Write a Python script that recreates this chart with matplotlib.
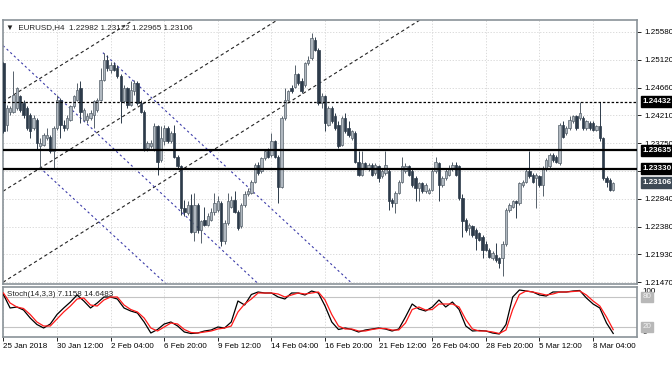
import numpy as np
import matplotlib
matplotlib.use("Agg")
import matplotlib.pyplot as plt
import matplotlib.transforms as mtrans

plt.rcParams['font.family'] = ['Liberation Sans', 'DejaVu Sans']

# ---- candle data (EURUSD H4), one entry per bar ----
opens = [
    1.2507, 1.2405, 1.2427, 1.2427, 1.2433, 1.2452, 1.2441, 1.2433, 1.2422, 1.2400,
    1.2414, 1.2370, 1.2373, 1.2384, 1.2386, 1.2362, 1.2400, 1.2446, 1.2405, 1.2400,
    1.2414, 1.2436, 1.2446, 1.2466, 1.2414, 1.2414, 1.2416, 1.2422, 1.2430, 1.2446,
    1.2479, 1.2512, 1.2496, 1.2504, 1.2498, 1.2485, 1.2444, 1.2466, 1.2438, 1.2460,
    1.2474, 1.2441, 1.2427, 1.2367, 1.2370, 1.2364, 1.2403, 1.2348, 1.2378, 1.2400,
    1.2378, 1.2392, 1.2353, 1.2337, 1.2269, 1.2260, 1.2274, 1.2230, 1.2274, 1.2233,
    1.2249, 1.2241, 1.2249, 1.2263, 1.2266, 1.2277, 1.2214, 1.2244, 1.2271, 1.2282,
    1.2263, 1.2239, 1.2274, 1.2291, 1.2293, 1.2312, 1.2340, 1.2329, 1.2351, 1.2362,
    1.2356, 1.2378, 1.2353, 1.2304, 1.2416, 1.2446, 1.2466, 1.2468, 1.2488, 1.2477,
    1.2471, 1.2507, 1.2515, 1.2545, 1.2528, 1.2441, 1.2452, 1.2405, 1.2433, 1.2419,
    1.2405, 1.2373, 1.2416, 1.2400, 1.2384, 1.2392, 1.2345, 1.2323, 1.2343, 1.2332,
    1.2340, 1.2326, 1.2337, 1.2321, 1.2326, 1.2329, 1.2282, 1.2277, 1.2293, 1.2312,
    1.2329, 1.2337, 1.2329, 1.2318, 1.2302, 1.2310, 1.2296, 1.2293, 1.2299, 1.2329,
    1.2343, 1.2307, 1.2318, 1.2323, 1.2332, 1.2340, 1.2337, 1.2285, 1.2249, 1.2236,
    1.2239, 1.2233, 1.2228, 1.2222, 1.2209, 1.2200, 1.2187, 1.2192, 1.2187, 1.2187,
    1.2209, 1.2266, 1.2271, 1.2280, 1.2277, 1.2307, 1.2312, 1.2329, 1.2323, 1.2318,
    1.2321, 1.2307, 1.2332, 1.2337, 1.2356, 1.2353, 1.2343, 1.2405, 1.2392, 1.2400,
    1.2411, 1.2419, 1.2416, 1.2416, 1.2400, 1.2408, 1.2408, 1.2397, 1.2403, 1.2384,
    1.2318, 1.2315, 1.22982]
highs = [
    1.2509, 1.2438, 1.2436, 1.2493, 1.2468, 1.2455, 1.2446, 1.2436, 1.2425, 1.2422,
    1.2416, 1.2384, 1.2392, 1.2400, 1.2389, 1.2403, 1.2455, 1.2449, 1.2414, 1.2422,
    1.2438, 1.2455, 1.2474, 1.2477, 1.2433, 1.2425, 1.2430, 1.2446, 1.2449, 1.2498,
    1.2523, 1.2520, 1.2509, 1.2509, 1.2504, 1.2488, 1.2471, 1.2468, 1.2477, 1.2479,
    1.2477, 1.2446, 1.2430, 1.2378, 1.2381, 1.2408, 1.2405, 1.2403, 1.2405, 1.2403,
    1.2395, 1.2405, 1.2356, 1.2340, 1.2282, 1.2280, 1.2291, 1.2293, 1.2277, 1.2249,
    1.2271, 1.2260, 1.2269, 1.2293, 1.2288, 1.2280, 1.2249, 1.2293, 1.2288, 1.2296,
    1.2266, 1.2277, 1.2296, 1.2302, 1.2315, 1.2343, 1.2345, 1.2353, 1.2364, 1.2367,
    1.2392, 1.2381, 1.2356, 1.2419, 1.2466, 1.2463, 1.2471, 1.2504, 1.2490, 1.2482,
    1.2509, 1.2518, 1.2556, 1.2550, 1.2531, 1.2457, 1.2455, 1.2436, 1.2436, 1.2425,
    1.2411, 1.2419, 1.2425, 1.2411, 1.2397, 1.2395, 1.2362, 1.2362, 1.2345, 1.2343,
    1.2343, 1.2343, 1.2340, 1.2332, 1.2362, 1.2332, 1.2285, 1.2296, 1.2315, 1.2353,
    1.2343, 1.2340, 1.2332, 1.2321, 1.2312, 1.2312, 1.2310, 1.2302, 1.2332, 1.2353,
    1.2345, 1.2321, 1.2332, 1.2340, 1.2345, 1.2345, 1.2340, 1.2291, 1.2252, 1.2244,
    1.2241, 1.2236, 1.2230, 1.2225, 1.2214, 1.2203, 1.2198, 1.2211, 1.2189, 1.2214,
    1.2269, 1.2277, 1.2282, 1.2282, 1.2312, 1.2315, 1.2332, 1.2362, 1.2326, 1.2326,
    1.2323, 1.2337, 1.2351, 1.2359, 1.2359, 1.2356, 1.2408, 1.2411, 1.2403, 1.2419,
    1.2422, 1.2422, 1.2443, 1.2419, 1.2414, 1.2411, 1.2411, 1.2405, 1.2443, 1.2386,
    1.2321, 1.2318, 1.23122]
lows = [
    1.2392, 1.2395, 1.2422, 1.2425, 1.2430, 1.2427, 1.2416, 1.2397, 1.2384, 1.2397,
    1.2364, 1.2334, 1.2370, 1.2381, 1.2359, 1.2334, 1.2397, 1.2384, 1.2395, 1.2397,
    1.2411, 1.2433, 1.2444, 1.2408, 1.2411, 1.2408, 1.2414, 1.2400, 1.2427, 1.2444,
    1.2477, 1.2493, 1.2490, 1.2493, 1.2482, 1.2408, 1.2441, 1.2433, 1.2436, 1.2455,
    1.2438, 1.2425, 1.2362, 1.2362, 1.2367, 1.2362, 1.2323, 1.2345, 1.2373, 1.2375,
    1.2375, 1.2351, 1.2334, 1.2258, 1.2255, 1.2258, 1.2228, 1.2214, 1.2228, 1.2211,
    1.2239, 1.2239, 1.2247, 1.2258, 1.2263, 1.2206, 1.2209, 1.2241, 1.2269, 1.2260,
    1.2233, 1.2236, 1.2271, 1.2288, 1.2291, 1.2310, 1.2323, 1.2326, 1.2348, 1.2351,
    1.2353, 1.2351, 1.2277, 1.2302, 1.2414, 1.2444, 1.2457, 1.2466, 1.2471, 1.2457,
    1.2468, 1.2504, 1.2512, 1.2526, 1.2438, 1.2433, 1.2395, 1.2403, 1.2408, 1.2397,
    1.2367, 1.2370, 1.2392, 1.2386, 1.2381, 1.2343, 1.2321, 1.2321, 1.2332, 1.2329,
    1.2321, 1.2323, 1.2312, 1.2318, 1.2323, 1.2266, 1.2271, 1.2260, 1.2291, 1.2310,
    1.2326, 1.2321, 1.2304, 1.2280, 1.2280, 1.2293, 1.2293, 1.2291, 1.2296, 1.2326,
    1.2280, 1.2304, 1.2315, 1.2321, 1.2329, 1.2321, 1.2282, 1.2222, 1.2230, 1.2225,
    1.2222, 1.2200, 1.2214, 1.2187, 1.2198, 1.2187, 1.2184, 1.2181, 1.2170, 1.2157,
    1.2206, 1.2263, 1.2269, 1.2252, 1.2274, 1.2304, 1.2310, 1.2318, 1.2310, 1.2269,
    1.2304, 1.2288, 1.2329, 1.2334, 1.2345, 1.2343, 1.2340, 1.2384, 1.2389, 1.2397,
    1.2408, 1.2397, 1.2414, 1.2397, 1.2397, 1.2397, 1.2395, 1.2395, 1.2378, 1.2315,
    1.2304, 1.2296, 1.22965]
closes = [
    1.2395, 1.2433, 1.2433, 1.2455, 1.2466, 1.2430, 1.2422, 1.2400, 1.2395, 1.2416,
    1.2375, 1.2375, 1.2389, 1.2389, 1.2362, 1.2400, 1.2446, 1.2405, 1.2400, 1.2416,
    1.2436, 1.2452, 1.2463, 1.2427, 1.2430, 1.2419, 1.2425, 1.2444, 1.2446, 1.2479,
    1.2512, 1.2498, 1.2504, 1.2496, 1.2485, 1.2444, 1.2466, 1.2438, 1.2463, 1.2474,
    1.2441, 1.2427, 1.2364, 1.2375, 1.2375, 1.2403, 1.2345, 1.2384, 1.2400, 1.2378,
    1.2392, 1.2353, 1.2337, 1.2269, 1.2263, 1.2274, 1.2230, 1.2274, 1.2233, 1.2247,
    1.2241, 1.2255, 1.2263, 1.2277, 1.2280, 1.2214, 1.2244, 1.2280, 1.2282, 1.2263,
    1.2236, 1.2274, 1.2291, 1.2296, 1.2312, 1.2340, 1.2326, 1.2351, 1.2362, 1.2353,
    1.2378, 1.2353, 1.2304, 1.2416, 1.2446, 1.2460, 1.2460, 1.2488, 1.2474, 1.2460,
    1.2507, 1.2512, 1.2548, 1.2528, 1.2441, 1.2452, 1.2408, 1.2433, 1.2411, 1.2400,
    1.2370, 1.2416, 1.2395, 1.2389, 1.2395, 1.2345, 1.2323, 1.2343, 1.2334, 1.2340,
    1.2323, 1.2340, 1.2318, 1.2329, 1.2340, 1.2280, 1.2277, 1.2293, 1.2312, 1.2337,
    1.2337, 1.2323, 1.2307, 1.2302, 1.2310, 1.2296, 1.2307, 1.2299, 1.2329, 1.2345,
    1.2307, 1.2318, 1.2329, 1.2334, 1.2340, 1.2323, 1.2285, 1.2247, 1.2233, 1.2241,
    1.2225, 1.2219, 1.2217, 1.2200, 1.2200, 1.2189, 1.2195, 1.2184, 1.2178, 1.2209,
    1.2266, 1.2274, 1.2280, 1.2277, 1.2310, 1.2312, 1.2329, 1.2321, 1.2312, 1.2323,
    1.2307, 1.2334, 1.2348, 1.2356, 1.2348, 1.2345, 1.2405, 1.2386, 1.2400, 1.2414,
    1.2419, 1.2400, 1.2425, 1.2400, 1.2411, 1.2400, 1.2397, 1.2403, 1.2384, 1.2318,
    1.2312, 1.2299, 1.23106]

# stochastic (14,3,3), read every second bar
stoch_bars = list(range(0, 183, 2))
stoch_k = [85, 58, 60, 54, 38, 25, 18, 26, 45, 58, 70, 84, 72, 58, 68, 80, 80, 76, 58, 52,
           48, 30, 8, 15, 26, 30, 22, 10, 7, 8, 12, 14, 20, 18, 30, 72, 64, 85, 90, 88,
           88, 80, 76, 88, 88, 84, 92, 88, 62, 30, 15, 18, 15, 10, 14, 16, 18, 16, 12, 16,
           40, 66, 56, 52, 60, 74, 60, 70, 55, 22, 12, 13, 12, 8, 6, 25, 80, 94, 92, 90,
           84, 82, 90, 90, 90, 92, 93, 78, 66, 58, 28, 7.1158]
stoch_d = [88, 68, 60, 57, 45, 30, 22, 22, 36, 50, 62, 76, 78, 64, 62, 74, 80, 80, 64, 55,
           50, 38, 18, 12, 20, 28, 26, 15, 9, 8, 10, 12, 16, 18, 22, 50, 66, 76, 88, 88,
           88, 86, 80, 84, 88, 86, 88, 90, 74, 45, 22, 16, 16, 12, 12, 15, 17, 17, 14, 14,
           28, 55, 60, 54, 55, 66, 66, 66, 60, 35, 16, 12, 12, 10, 7, 14, 55, 85, 92, 90,
           87, 84, 86, 90, 90, 91, 92, 84, 72, 62, 40, 14.6483]

# axis labels
date_labels = ["25 Jan 2018", "30 Jan 12:00", "2 Feb 04:00", "6 Feb 20:00", "9 Feb 12:00",
               "14 Feb 04:00", "16 Feb 20:00", "21 Feb 12:00", "26 Feb 04:00",
               "28 Feb 20:00", "5 Mar 12:00", "8 Mar 04:00"]
date_bars = [0, 16, 32, 48, 64, 80, 96, 112, 128, 144, 160, 176]
price_ticks = [1.25580, 1.25120, 1.24660, 1.24210, 1.23750, 1.23290, 1.22840, 1.22380,
               1.21930, 1.21470]

# drawn objects: horizontal levels and trend lines (bar, price anchors)
level_dotted = 1.24432
levels_solid = [1.23635, 1.23330]
last_price = 1.23106
channel_lines = [((0, 1.24440), (38, 1.25743)),
                 ((0, 1.22967), (80, 1.25711)),
                 ((0, 1.21475), (123.5, 1.25744))]
fall_lines = [((-0.4, 1.25367), (75.7, 1.21464), False),
              ((29.7, 1.25236), (103.8, 1.21464), True),
              ((10.9, 1.23350), (48.8, 1.21431), True)]

W, H = 672, 372
fig = plt.figure(figsize=(W / 100, H / 100), dpi=100)
fig.patch.set_facecolor('white')
ax = fig.add_axes([3 / W, 1 - 284 / H, 634 / W, 264 / H])
ax2 = fig.add_axes([3 / W, 1 - 337 / H, 634 / W, 50 / H])

frame_col = '#8a9298'
grid_col = '#d4d4d4'
bull_body, bull_edge = '#b0b8c0', '#56616b'
bear_body = '#2d3b4a'
fs = 5.8

n = len(closes)
x = np.arange(n)
o, h, l, c = map(np.array, (opens, highs, lows, closes))
up = c >= o

ax.vlines(x[up], l[up], h[up], color=bull_edge, lw=0.7, zorder=3)
ax.vlines(x[~up], l[~up], h[~up], color=bear_body, lw=0.7, zorder=3)
ax.bar(x[up], (c - o)[up], bottom=o[up], width=0.7, color=bull_body,
       edgecolor=bull_edge, linewidth=0.5, zorder=4)
ax.bar(x[~up], (o - c)[~up], bottom=c[~up], width=0.7, color=bear_body,
       edgecolor=bear_body, linewidth=0.5, zorder=4)

xmin, xmax = -0.12, 189.1
ax.set_xlim(xmin, xmax)
ax.set_ylim(1.21442, 1.25772)

# levels
ax.axhline(level_dotted, color='black', lw=0.9, ls=(0, (2, 1.5)), zorder=5)
for lv in levels_solid:
    ax.axhline(lv, color='black', lw=1.6, zorder=5)

# trend channels
for p1, p2 in channel_lines:
    ax.axline(p1, p2, color='#222222', lw=0.8, ls=(0, (3, 2.5)), zorder=2)
for p1, p2, ray in fall_lines:
    if ray:
        slope = (p2[1] - p1[1]) / (p2[0] - p1[0])
        ax.plot([p1[0], p1[0] + 150], [p1[1], p1[1] + slope * 150],
                color='#3a3aa8', lw=0.8, ls=(0, (2, 2.5)), zorder=2)
    else:
        ax.axline(p1, p2, color='#3a3aa8', lw=0.8, ls=(0, (2, 2.5)), zorder=2)

# grid / ticks main
ax.set_yticks(price_ticks)
ax.set_yticklabels([f"{p:.5f}" if p != 1.23290 else "" for p in price_ticks])
ax.yaxis.tick_right()
ax.tick_params(axis='y', labelsize=fs, length=3, width=0.6, pad=2, colors='black')
ax.set_xticks(date_bars)
ax.tick_params(axis='x', length=0, labelbottom=False)
ax.grid(True, color=grid_col, ls=(0, (1.5, 2)), lw=0.6)
ax.set_axisbelow(True)
for s in ax.spines.values():
    s.set_color(frame_col)
    s.set_linewidth(1.2)

# right-side value boxes
tr = mtrans.blended_transform_factory(ax.transAxes, ax.transData)
for val, bg in [(level_dotted, 'black'), (levels_solid[0], 'black'),
                (levels_solid[1], 'black'), (last_price, '#3e4a55')]:
    ax.text(1.009, val, f"{val:.5f}", transform=tr, ha='left', va='center',
            fontsize=fs, color='white', fontweight='bold', zorder=10, clip_on=False,
            bbox=dict(boxstyle='square,pad=0.25', fc=bg, ec=bg))

ax.text(0.004, 0.972, "\u25bc  EURUSD,H4  1.22982 1.23122 1.22965 1.23106",
        transform=ax.transAxes, fontsize=fs, color='#222222', va='center', ha='left')

# ---- stochastic panel ----
ax2.plot(stoch_bars, stoch_k, color='black', lw=0.9, zorder=3)
ax2.plot(stoch_bars, stoch_d, color='#ff1a1a', lw=0.9, zorder=3)
ax2.axhline(80, color='#c4c4c4', lw=0.8, zorder=1)
ax2.axhline(20, color='#c4c4c4', lw=0.8, zorder=1)
ax2.set_xlim(xmin, xmax)
ax2.set_ylim(0, 100)
ax2.set_yticks([])
ax2.set_xticks(date_bars)
ax2.set_xticklabels(date_labels, ha='left')
ax2.tick_params(axis='x', labelsize=fs, length=3, width=0.6, pad=1.5, colors='black')
ax2.grid(True, axis='x', color=grid_col, ls=(0, (1.5, 2)), lw=0.6)
for s in ax2.spines.values():
    s.set_color(frame_col)
    s.set_linewidth(1.2)
ax2.text(0.006, 0.84, "Stoch(14,3,3) 7.1158 14.6483", transform=ax2.transAxes,
         fontsize=fs, color='#222222', va='center', ha='left')
tr2 = mtrans.blended_transform_factory(ax2.transAxes, ax2.transData)
ax2.text(1.009, 91, "100", transform=tr2, fontsize=fs, va='center', ha='left')
ax2.text(1.009, 9, "0", transform=tr2, fontsize=fs, va='center', ha='left')
for v in (80, 20):
    ax2.text(1.009, v, str(v), transform=tr2, fontsize=fs, va='center', ha='left',
             color='#f4f4f4', bbox=dict(boxstyle='square,pad=0.15', fc='#b8b8b8', ec='#b8b8b8'))

fig.savefig("out.png", dpi=100, facecolor='white')
